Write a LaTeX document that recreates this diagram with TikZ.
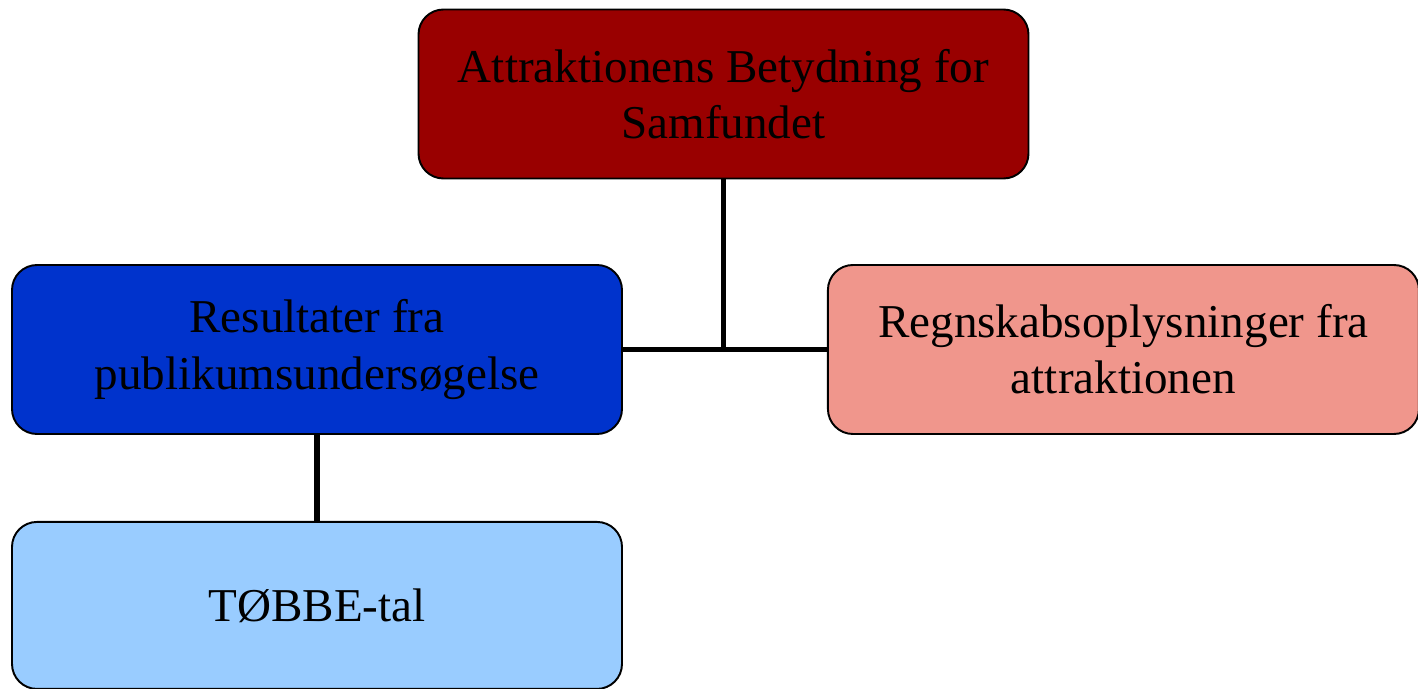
\documentclass[tikz,border=0pt]{standalone}
\usepackage{fontspec}
\setmainfont{Liberation Serif}
\usepackage{tikz}
\usetikzlibrary{positioning}
\definecolor{Samfundrod}{RGB}{153,0,0}
\definecolor{Publikumbla}{RGB}{0,51,204}
\definecolor{Regnskabrosa}{RGB}{240,150,140}
\definecolor{Tobbelys}{RGB}{153,204,255}

\begin{document}
\begin{tikzpicture}[
  node distance=1.72cm and 4.08cm,
  boks/.style={
    rectangle, rounded corners=0.5cm, draw=black, line width=1.1pt,
    font=\fontsize{26.8}{32}\selectfont, text=black,
    text width=11.6cm, align=flush center,
    minimum width=12.2cm, minimum height=3.38cm
  },
  forb/.style={draw=black, line width=3.4pt}
]
\useasboundingbox (0,0) rectangle (28.36,13.76);

%% -- Noder --
\node[boks, fill=Samfundrod] (samfund) at (14.47,11.88) {Attraktionens Betydning for\\Samfundet};
\node[boks, fill=Publikumbla] (publikum) at (6.34,6.77) {Resultater fra\\publikumsundersøgelse};
\node[boks, fill=Regnskabrosa, minimum width=11.82cm, text width=11.2cm,
      right=4.08cm of publikum.east, anchor=west] (regnskab) {Regnskabsoplysninger fra\\attraktionen};
\node[boks, fill=Tobbelys, minimum height=3.34cm, below=of publikum] (tobbe) {TØBBE-tal};

%% -- Forbindelser --
\draw[forb] (samfund.south) -- (samfund.south |- publikum.east);
\draw[forb] (publikum.east) -- (regnskab.west);
\draw[forb] (publikum.south) -- (tobbe.north);

\end{tikzpicture}
\end{document}
